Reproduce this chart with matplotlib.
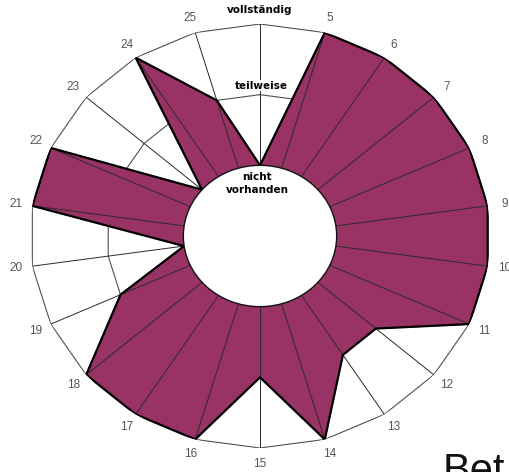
import numpy as np
import matplotlib
matplotlib.use("Agg")
import matplotlib.pyplot as plt

# Kategorien (oben ohne Beschriftung) und Bewertung 0/1/2
labels = ["", "5", "6", "7", "8", "9", "10", "11", "12", "13", "14", "15",
          "16", "17", "18", "19", "20", "21", "22", "23", "24", "25"]
values = [0, 2, 2, 2, 2, 2, 2, 2, 1, 1, 2, 1, 2, 2, 2, 1, 0, 2, 2, 0, 2, 1]
levels = ["nicht\nvorhanden", "teilweise", "vollständig"]

plt.rcParams['font.family'] = ['Liberation Sans', 'DejaVu Sans']

n = len(labels)
theta = np.linspace(0, 2 * np.pi, n, endpoint=False)
theta_c = np.append(theta, theta[0])
vals_c = np.append(values, values[0])

fig = plt.figure(figsize=(5.10, 4.72), dpi=100)
ax = fig.add_axes([30 / 510, 24 / 472, 460 / 510, 424 / 472], projection='polar')
ax.set_aspect('auto')
ax.set_theta_zero_location('N')
ax.set_theta_direction(-1)
ax.set_rorigin(-1)
ax.set_ylim(0, 2)
ax.grid(False)
ax.set_xticks([])
ax.set_yticks([])
ax.spines['polar'].set_visible(False)
ax.spines['inner'].set_color('#111111')
ax.spines['inner'].set_linewidth(1.0)
ax.spines['inner'].set_zorder(4)

# polygonale Gitterlinien
for lv in [1, 2]:
    ax.plot(theta_c, [lv] * (n + 1), color='#505050', lw=0.8, zorder=0.5)

# Datenfläche
ax.fill(theta_c, vals_c, color='#993366', zorder=1)
ax.plot(theta_c, vals_c, color='black', lw=1.6, zorder=3)

# Speichen
for t in theta:
    ax.plot([t, t], [0, 2], color='#2a2a2a', lw=0.7, zorder=2)

# Kategorienbeschriftung
for t, lab in zip(theta, labels):
    if lab:
        ax.text(t, 2.22, lab, ha='center', va='center', fontsize=8.5,
                color='#555555', clip_on=False)

# Stufenbeschriftung auf der oberen Achse
lvl_font = dict(family='DejaVu Sans', fontsize=7.5, fontweight='bold')
ax.annotate(levels[2], xy=(0, 2), xytext=(0, 14), textcoords='offset pixels',
            ha='center', va='center', annotation_clip=False, **lvl_font)
ax.annotate(levels[1], xy=(0, 1), xytext=(1, 9), textcoords='offset pixels',
            ha='center', va='center',
            bbox=dict(boxstyle='square,pad=0.05', fc='white', ec='none'),
            zorder=5, **lvl_font)
ax.annotate(levels[0], xy=(0, 0), xytext=(-3, -18), textcoords='offset pixels',
            ha='center', va='center', linespacing=1.45,
            annotation_clip=False, **lvl_font)

fig.text(443 / 510, 20 / 472, "Bet", ha='left', va='top', fontsize=30,
         color='#111111')

fig.savefig("out.png", dpi=100)
